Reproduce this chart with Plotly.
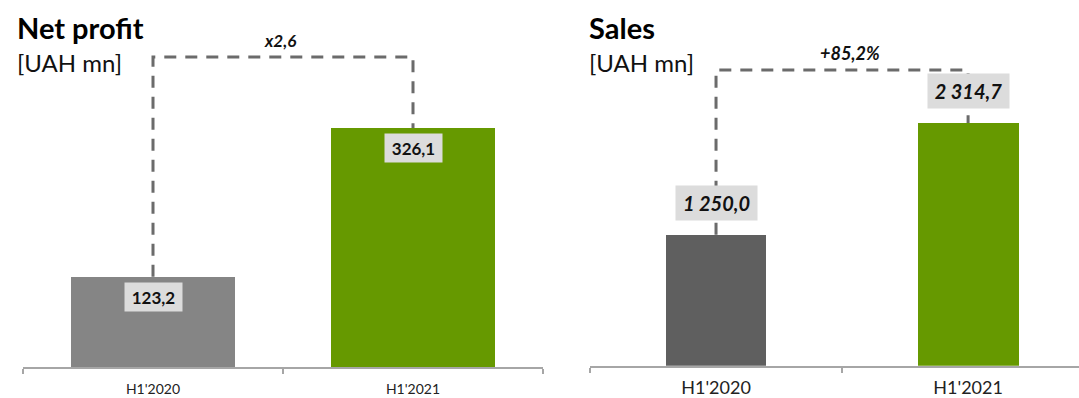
import plotly.graph_objects as go

# ---------------- data ----------------
categories = ["H1'2020", "H1'2021"]
net_profit = [123.2, 326.1]
sales = [1250.0, 2314.7]
chart_titles = ["Net profit", "Sales"]
unit_label = "[UAH mn]"

# ---------------- style ----------------
W, H = 1079, 398
FONT = "Lato"
GREEN = "#669900"
LINE_GREY = "#a6a6a6"
DASH_GREY = "#6b6b6b"
BOX_GREY = "#dcdcdc"


def fmt(v):
    s = f"{v:,.1f}"
    return s.replace(",", " ").replace(".", ",")


def bracket(vals, factor):
    top = max(vals) * factor
    return [vals[0], top, top, vals[1]]


ratio = net_profit[1] / net_profit[0]
ratio_txt = "x" + f"{ratio:.1f}".replace(".", ",")
growth = (sales[1] / sales[0] - 1) * 100
growth_txt = "+" + f"{growth:.1f}".replace(".", ",") + "%"

fig = go.Figure()

# bars
fig.add_trace(go.Bar(x=categories, y=net_profit, marker=dict(color=["#858585", GREEN], line=dict(width=0)),
                     width=0.627, xaxis="x", yaxis="y", hoverinfo="skip"))
fig.add_trace(go.Bar(x=categories, y=sales, marker=dict(color=["#5f5f5f", GREEN], line=dict(width=0)),
                     width=0.4, xaxis="x2", yaxis="y2", hoverinfo="skip"))

# brackets
np_br = bracket(net_profit, 1.297)
s_br = bracket(sales, 1.219)
bx = [categories[0], categories[0], categories[1], categories[1]]
fig.add_trace(go.Scatter(x=bx, y=np_br, mode="lines", xaxis="x", yaxis="y", hoverinfo="skip",
                         line=dict(color=DASH_GREY, width=3, dash="12px,9px")))
fig.add_trace(go.Scatter(x=bx, y=s_br, mode="lines", xaxis="x2", yaxis="y2", hoverinfo="skip",
                         line=dict(color=DASH_GREY, width=3, dash="12px,9px")))

annotations = []
# value labels, left (inside bar tops)
for c, v in zip(categories, net_profit):
    annotations.append(dict(x=c, y=v, xref="x", yref="y", text=f"<b>{fmt(v)}</b>", showarrow=False,
                            yanchor="top", yshift=-5, bgcolor=BOX_GREY, width=57, height=28, borderpad=0,
                            font=dict(family=FONT, size=17, color="#111111")))
# value labels, right (above bars)
for c, v in zip(categories, sales):
    annotations.append(dict(x=c, y=v, xref="x2", yref="y2", text=f"<b><i>{fmt(v)}</i></b>", showarrow=False,
                            yanchor="bottom", yshift=14, bgcolor=BOX_GREY, width=81, height=34, borderpad=0,
                            font=dict(family=FONT, size=20, color="#111111")))
# growth labels
annotations.append(dict(x=0.5, y=np_br[1], xref="x", yref="y", text=f"<b><i>{ratio_txt}</i></b>",
                        showarrow=False, yanchor="middle", yshift=16, xshift=-3,
                        font=dict(family=FONT, size=17, color="#111111")))
annotations.append(dict(x=0.5, y=s_br[1], xref="x2", yref="y2", text=f"<b><i>{growth_txt}</i></b>",
                        showarrow=False, yanchor="middle", yshift=17, xshift=8,
                        font=dict(family=FONT, size=18, color="#111111")))
# titles
for x0, t in zip([15, 587], chart_titles):
    annotations.append(dict(x=x0 / W, y=1 - 27 / H, xref="paper", yref="paper", text=f"<b>{t}</b>",
                            showarrow=False, xanchor="left", yanchor="middle",
                            font=dict(family=FONT, size=29, color="#000000")))
    annotations.append(dict(x=x0 / W, y=1 - 63 / H, xref="paper", yref="paper", text=unit_label,
                            showarrow=False, xanchor="left", yanchor="middle",
                            font=dict(family=FONT, size=24, color="#111111")))

xcommon = dict(type="category", tickson="boundaries", ticks="outside", ticklen=5, tickwidth=2,
               tickcolor=LINE_GREY, showline=True, linewidth=2, linecolor=LINE_GREY, showgrid=False,
               zeroline=False, fixedrange=True, automargin=False)

fig.update_layout(
    width=W, height=H, margin=dict(l=0, r=0, t=0, b=0, autoexpand=False),
    paper_bgcolor="white", plot_bgcolor="white", showlegend=False, bargap=0,
    annotations=annotations,
    xaxis=dict(domain=[23 / W, 543 / W], range=[-0.5, 1.5], anchor="y", ticklabelstandoff=8,
               tickfont=dict(family=FONT, size=14, color="#222222"), **xcommon),
    yaxis=dict(domain=[(H - 367) / H, 1], range=[0, 367 / 0.733], visible=False, fixedrange=True,
               automargin=False),
    xaxis2=dict(domain=[590 / W, 1], range=[-0.5, 1.44], anchor="y2", ticklabelstandoff=5,
                tickfont=dict(family=FONT, size=18, color="#222222"), **xcommon),
    yaxis2=dict(domain=[(H - 365.7) / H, 1], range=[0, 365.7 / 0.1048], visible=False, fixedrange=True,
                automargin=False),
)

fig.write_html("out.html")
